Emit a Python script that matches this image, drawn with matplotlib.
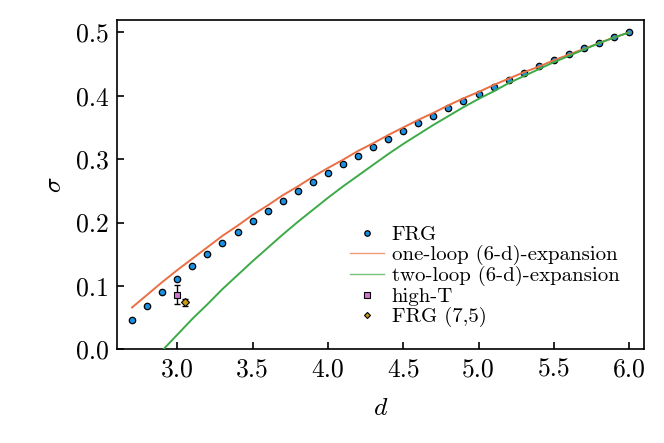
import matplotlib
matplotlib.use("Agg")
from matplotlib import pyplot as plt

plt.rcParams['font.family'] = 'cmr10'
plt.rcParams['mathtext.fontset'] = 'cm'
plt.rcParams['axes.formatter.use_mathtext'] = True

# FRG results
d_frg = [2.7, 2.8, 2.9, 3.0, 3.1, 3.2, 3.3, 3.4, 3.5, 3.6, 3.7, 3.8,
         3.9, 4.0, 4.1, 4.2, 4.3, 4.4, 4.5, 4.6, 4.7, 4.8, 4.9, 5.0,
         5.1, 5.2, 5.3, 5.4, 5.5, 5.6, 5.7, 5.8, 5.9, 6.0]
sigma_frg = [0.0456, 0.0687, 0.0905, 0.1116, 0.1316, 0.1506, 0.1685, 0.1858,
             0.2027, 0.2185, 0.2340, 0.2492, 0.2640, 0.2780, 0.2922, 0.3054,
             0.3185, 0.3317, 0.3444, 0.3570, 0.3686, 0.3801, 0.3918, 0.4033,
             0.4139, 0.4250, 0.4360, 0.4465, 0.4565, 0.4654, 0.4749, 0.4834,
             0.4929, 0.5000]

# one-loop (6-d)-expansion
d_one = d_frg
sigma_one = [0.066, 0.086, 0.106, 0.125, 0.143, 0.161, 0.179, 0.195,
             0.212, 0.227, 0.243, 0.257, 0.272, 0.286, 0.299, 0.313,
             0.325, 0.338, 0.350, 0.362, 0.373, 0.385, 0.396, 0.406,
             0.417, 0.427, 0.437, 0.446, 0.456, 0.465, 0.474, 0.483,
             0.492, 0.500]

# two-loop (6-d)-expansion
d_two = d_frg[2:]
sigma_two = [-0.002, 0.023, 0.048, 0.071, 0.095, 0.117, 0.139, 0.160,
             0.181, 0.201, 0.220, 0.239, 0.257, 0.274, 0.291, 0.308,
             0.324, 0.339, 0.354, 0.368, 0.382, 0.395, 0.407, 0.420,
             0.431, 0.442, 0.453, 0.463, 0.473, 0.483, 0.492, 0.500]

# single estimates at d = 3
d_ht, sigma_ht, err_ht = [3.0], [0.086], [0.015]
d_75, sigma_75, err_75 = [3.05], [0.074], [0.005]

fig = plt.figure(figsize=(6.64, 4.43), dpi=100)
ax = fig.add_axes([0.1762, 0.2115, 0.7941, 0.744])

ax.plot(d_frg, sigma_frg, 'o', ms=4.6, mfc='#1a90e0', mec='black', mew=0.9,
        label='FRG', zorder=2)
ax.plot(d_one, sigma_one, '-', color='#ea6f45', lw=1.4,
        label='one-loop (6-d)-expansion', zorder=3)
ax.plot(d_two, sigma_two, '-', color='#3daa48', lw=1.4,
        label='two-loop (6-d)-expansion', zorder=3)

# error bars drawn separately so the legend shows only the markers
ax.errorbar(d_ht, sigma_ht, yerr=err_ht, fmt='none', ecolor='black',
            elinewidth=1.0, capsize=2.5, zorder=4)
ax.errorbar(d_75, sigma_75, yerr=err_75, fmt='none', ecolor='black',
            elinewidth=1.0, capsize=2.5, zorder=4)
ax.plot(d_ht, sigma_ht, 's', ms=4.5, mfc='#cc77cc', mec='black', mew=0.8,
        label='high-T', zorder=5)
ax.plot(d_75, sigma_75, 'D', ms=3.6, mfc='#c89a10', mec='black', mew=0.8,
        label='FRG (7,5)', zorder=5)

ax.set_xlim(2.6, 6.1)
ax.set_ylim(0.0, 0.52)
ax.set_xticks([3.0, 3.5, 4.0, 4.5, 5.0, 5.5, 6.0])
ax.set_yticks([0.0, 0.1, 0.2, 0.3, 0.4, 0.5])
ax.set_xticklabels(['3.0', '3.5', '4.0', '4.5', '5.0', '5.5', '6.0'])
ax.set_yticklabels(['0.0', '0.1', '0.2', '0.3', '0.4', '0.5'])
ax.tick_params(direction='in', length=5, width=1.2, labelsize=18.5, pad=6,
               top=False, right=False)
for s in ax.spines.values():
    s.set_linewidth(1.2)

ax.set_xlabel(r'$d$', fontsize=18.5, labelpad=11)
ax.set_ylabel(r'$\sigma$', fontsize=18.5, labelpad=7)

leg = ax.legend(loc='upper left', bbox_to_anchor=(0.442, 0.376), frameon=False,
                fontsize=15, borderpad=0, borderaxespad=0, labelspacing=0.05,
                handlelength=1.65, handletextpad=0.35, numpoints=1,
                markerscale=0.85)
for h in leg.legend_handles[1:3]:
    h.set_linewidth(1.0)
    h.set_alpha(0.7)

fig.savefig('out.png', dpi=100)
